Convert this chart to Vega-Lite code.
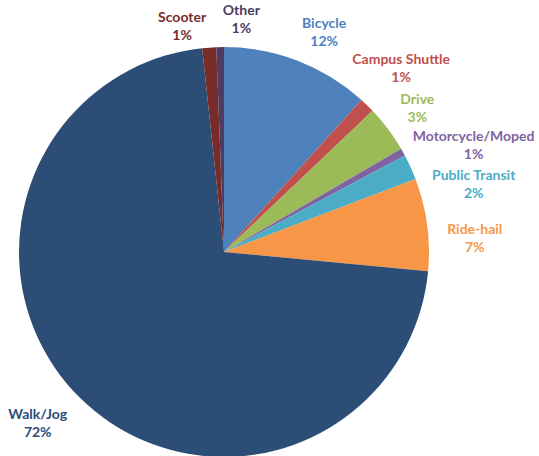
{
  "$schema": "https://vega.github.io/schema/vega-lite/v6.json",
  "width": 448,
  "height": 408,
  "autosize": {"type": "none"},
  "padding": {"left": 0, "top": 48, "right": 91, "bottom": 0},
  "background": "white",
  "data": {"values": [
    {"mode": "Bicycle", "share": 0.117, "pct": "12%", "idx": 1},
    {"mode": "Campus Shuttle", "share": 0.012, "pct": "1%", "idx": 2},
    {"mode": "Drive", "share": 0.037, "pct": "3%", "idx": 3},
    {"mode": "Motorcycle/Moped", "share": 0.006, "pct": "1%", "idx": 4},
    {"mode": "Public Transit", "share": 0.020, "pct": "2%", "idx": 5},
    {"mode": "Ride-hail", "share": 0.073, "pct": "7%", "idx": 6},
    {"mode": "Walk/Jog", "share": 0.718, "pct": "72%", "idx": 7},
    {"mode": "Scooter", "share": 0.011, "pct": "1%", "idx": 8},
    {"mode": "Other", "share": 0.006, "pct": "1%", "idx": 9}
  ]},
  "encoding": {
    "theta": {"field": "share", "type": "quantitative", "stack": true},
    "order": {"field": "idx", "type": "quantitative"},
    "color": {
      "field": "mode", "type": "nominal", "legend": null,
      "scale": {
        "domain": ["Bicycle", "Campus Shuttle", "Drive", "Motorcycle/Moped", "Public Transit", "Ride-hail", "Walk/Jog", "Scooter", "Other"],
        "range": ["#4F81BD", "#C0504D", "#9BBB59", "#8064A2", "#4BACC6", "#F79646", "#2C4D75", "#772C2A", "#4D3B62"]
      }
    }
  },
  "layer": [
    {"mark": {"type": "arc", "outerRadius": 205}},
    {"mark": {"type": "text", "radius": 248, "dx": 11, "dy": 3, "font": "Lato", "fontWeight": "bold", "fontSize": 14},
     "encoding": {"text": {"condition": {"test": "datum.mode === 'Bicycle'", "field": "mode"}, "value": ""}}},
    {"mark": {"type": "text", "radius": 248, "dx": 11, "dy": 21, "font": "Lato", "fontWeight": "bold", "fontSize": 14},
     "encoding": {"text": {"condition": {"test": "datum.mode === 'Bicycle'", "field": "pct"}, "value": ""}}},
    {"mark": {"type": "text", "radius": 248, "dx": 4, "dy": -14, "font": "Lato", "fontWeight": "bold", "fontSize": 14},
     "encoding": {"text": {"condition": {"test": "datum.mode === 'Campus Shuttle'", "field": "mode"}, "value": ""}}},
    {"mark": {"type": "text", "radius": 248, "dx": 4, "dy": 4, "font": "Lato", "fontWeight": "bold", "fontSize": 14},
     "encoding": {"text": {"condition": {"test": "datum.mode === 'Campus Shuttle'", "field": "pct"}, "value": ""}}},
    {"mark": {"type": "text", "radius": 248, "dx": -5, "dy": -3, "font": "Lato", "fontWeight": "bold", "fontSize": 14},
     "encoding": {"text": {"condition": {"test": "datum.mode === 'Drive'", "field": "mode"}, "value": ""}}},
    {"mark": {"type": "text", "radius": 248, "dx": -5, "dy": 15, "font": "Lato", "fontWeight": "bold", "fontSize": 14},
     "encoding": {"text": {"condition": {"test": "datum.mode === 'Drive'", "field": "pct"}, "value": ""}}},
    {"mark": {"type": "text", "radius": 248, "dx": 33, "dy": 6, "font": "Lato", "fontWeight": "bold", "fontSize": 14},
     "encoding": {"text": {"condition": {"test": "datum.mode === 'Motorcycle/Moped'", "field": "mode"}, "value": ""}}},
    {"mark": {"type": "text", "radius": 248, "dx": 33, "dy": 24, "font": "Lato", "fontWeight": "bold", "fontSize": 14},
     "encoding": {"text": {"condition": {"test": "datum.mode === 'Motorcycle/Moped'", "field": "pct"}, "value": ""}}},
    {"mark": {"type": "text", "radius": 248, "dx": 24, "dy": 27, "font": "Lato", "fontWeight": "bold", "fontSize": 14},
     "encoding": {"text": {"condition": {"test": "datum.mode === 'Public Transit'", "field": "mode"}, "value": ""}}},
    {"mark": {"type": "text", "radius": 248, "dx": 24, "dy": 45, "font": "Lato", "fontWeight": "bold", "fontSize": 14},
     "encoding": {"text": {"condition": {"test": "datum.mode === 'Public Transit'", "field": "pct"}, "value": ""}}},
    {"mark": {"type": "text", "radius": 248, "dx": 5, "dy": 11, "font": "Lato", "fontWeight": "bold", "fontSize": 14},
     "encoding": {"text": {"condition": {"test": "datum.mode === 'Ride-hail'", "field": "mode"}, "value": ""}}},
    {"mark": {"type": "text", "radius": 248, "dx": 5, "dy": 29, "font": "Lato", "fontWeight": "bold", "fontSize": 14},
     "encoding": {"text": {"condition": {"test": "datum.mode === 'Ride-hail'", "field": "pct"}, "value": ""}}},
    {"mark": {"type": "text", "radius": 248, "dx": -12, "dy": -13, "font": "Lato", "fontWeight": "bold", "fontSize": 14},
     "encoding": {"text": {"condition": {"test": "datum.mode === 'Walk/Jog'", "field": "mode"}, "value": ""}}},
    {"mark": {"type": "text", "radius": 248, "dx": -12, "dy": 5, "font": "Lato", "fontWeight": "bold", "fontSize": 14},
     "encoding": {"text": {"condition": {"test": "datum.mode === 'Walk/Jog'", "field": "pct"}, "value": ""}}},
    {"mark": {"type": "text", "radius": 248, "dx": -24, "dy": 13, "font": "Lato", "fontWeight": "bold", "fontSize": 14},
     "encoding": {"text": {"condition": {"test": "datum.mode === 'Scooter'", "field": "mode"}, "value": ""}}},
    {"mark": {"type": "text", "radius": 248, "dx": -24, "dy": 31, "font": "Lato", "fontWeight": "bold", "fontSize": 14},
     "encoding": {"text": {"condition": {"test": "datum.mode === 'Scooter'", "field": "pct"}, "value": ""}}},
    {"mark": {"type": "text", "radius": 248, "dx": 22, "dy": 7, "font": "Lato", "fontWeight": "bold", "fontSize": 14},
     "encoding": {"text": {"condition": {"test": "datum.mode === 'Other'", "field": "mode"}, "value": ""}}},
    {"mark": {"type": "text", "radius": 248, "dx": 22, "dy": 25, "font": "Lato", "fontWeight": "bold", "fontSize": 14},
     "encoding": {"text": {"condition": {"test": "datum.mode === 'Other'", "field": "pct"}, "value": ""}}}
  ],
  "config": {"view": {"stroke": null}}
}
